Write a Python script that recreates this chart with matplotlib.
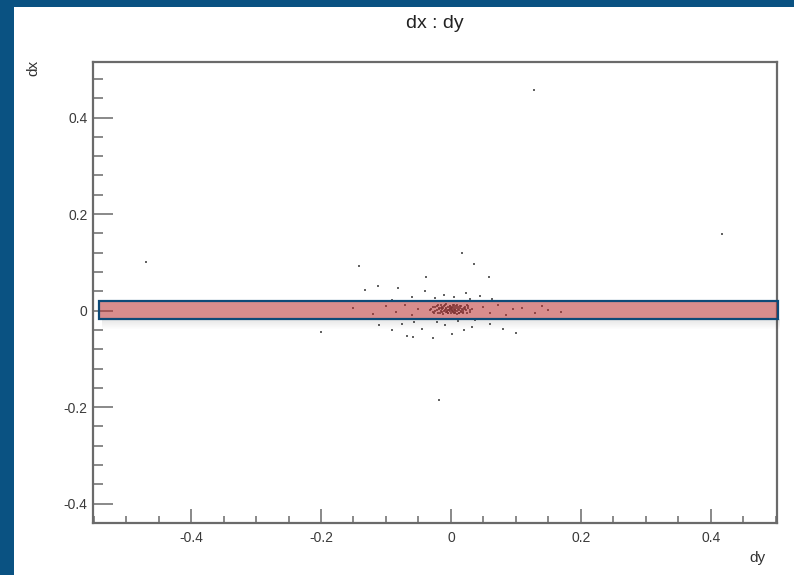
import matplotlib
matplotlib.use("Agg")
import matplotlib.pyplot as plt
from matplotlib.patches import Rectangle
from matplotlib.ticker import MultipleLocator

plt.rcParams["font.family"] = ["Liberation Sans", "DejaVu Sans"]

# Scatter of residuals: dy on the horizontal axis, dx on the vertical axis
dy = [
    # isolated entries
    0.128, 0.418, -0.469, -0.200, -0.018, -0.141,
    # above the core
    0.017, 0.035, -0.038, 0.059, -0.113, -0.082, -0.132, -0.040, -0.011,
    0.023, 0.064, -0.060, 0.005, 0.045, -0.090, 0.030, -0.025,
    # below the core
    -0.057, -0.021, 0.011, 0.037, -0.090, -0.044, -0.009, 0.032, 0.080,
    -0.067, -0.058, -0.028, 0.100, 0.001, -0.110, 0.060, 0.020, -0.075,
    # spread along dx ~ 0
    -0.150, -0.120, -0.100, -0.085, -0.070, -0.060, -0.050, 0.050, 0.060,
    0.072, 0.085, 0.095, 0.110, 0.130, 0.150, 0.170, 0.140,
    # dense core
    -0.030, -0.027, -0.025, -0.022, -0.020, -0.018, -0.016, -0.015, -0.013,
    -0.012, -0.010, -0.009, -0.008, -0.007, -0.006, -0.005, -0.004, -0.003,
    -0.002, -0.001, 0.000, 0.000, 0.001, 0.002, 0.003, 0.004, 0.005,
    0.006, 0.007, 0.008, 0.009, 0.010, 0.011, 0.012, 0.014, 0.015,
    0.017, 0.019, 0.021, 0.023, 0.025, 0.027, 0.030, -0.004, 0.002,
    0.006, -0.008, -0.011, 0.013, -0.002, 0.004, -0.006, 0.008, -0.014,
    0.016, -0.019, 0.020, 0.001, -0.001, 0.003,
    -0.028, -0.024, -0.021, -0.017, -0.012, -0.009, -0.005, -0.001, 0.003,
    0.007, 0.011, 0.015, 0.018, 0.022, 0.026, 0.029, -0.026, -0.020,
    -0.014, -0.007, 0.000, 0.005, 0.012, 0.018, 0.024, -0.032, 0.033,
    -0.016, 0.009, 0.014,
]
dx = [
    0.456, 0.158, 0.100, -0.044, -0.185, 0.092,
    0.119, 0.096, 0.069, 0.069, 0.052, 0.047, 0.042, 0.040, 0.033,
    0.036, 0.025, 0.028, 0.028, 0.030, 0.022, 0.024, 0.026,
    -0.024, -0.023, -0.022, -0.020, -0.040, -0.039, -0.030, -0.034, -0.038,
    -0.052, -0.054, -0.057, -0.046, -0.048, -0.030, -0.028, -0.040, -0.028,
    0.005, -0.008, 0.010, -0.003, 0.012, -0.010, 0.004, 0.008, -0.006,
    0.012, -0.010, 0.003, 0.006, -0.005, 0.002, -0.003, 0.010,
    0.004, -0.002, 0.008, 0.001, -0.005, 0.006, 0.011, -0.001, 0.003,
    -0.007, 0.009, 0.002, -0.003, 0.005, 0.000, 0.007, -0.004, 0.002,
    0.010, -0.001, 0.004, -0.006, 0.001, 0.006, -0.002, 0.003, 0.008,
    -0.004, 0.001, 0.005, -0.001, 0.011, 0.003, -0.006, 0.006, 0.000,
    0.004, -0.003, 0.008, 0.002, -0.005, 0.005, 0.001, 0.001, -0.001,
    0.002, 0.004, 0.000, 0.002, 0.005, -0.005, -0.002, 0.009, 0.008,
    -0.002, 0.003, 0.006, 0.008, 0.003, 0.000,
    0.007, 0.000, 0.010, -0.004, 0.005, 0.012, -0.006, 0.009, 0.011,
    -0.003, 0.007, 0.010, -0.005, 0.004, 0.009, -0.002, -0.004, 0.011,
    -0.002, 0.013, 0.006, 0.012, -0.004, 0.001, 0.011, 0.002, 0.004,
    0.005, -0.007, 0.009,
]

x_range = (-0.551, 0.502)
y_range = (-0.44, 0.515)
x_ticks = [-0.4, -0.2, 0.0, 0.2, 0.4]
y_ticks = [-0.4, -0.2, 0.0, 0.2, 0.4]
tick_text = ["-0.4", "-0.2", "0", "0.2", "0.4"]

# highlighted strip around dx = 0
band_dy = (-0.5415, 0.503)
band_dx = (-0.0172, 0.0195)

W, H = 794, 575
fig = plt.figure(figsize=(W / 100, H / 100), dpi=100)
fig.patch.set_facecolor("white")

# window frame
frame_blue = "#0a5282"
fig.add_artist(Rectangle((0, 1 - 7 / H), 1, 7 / H, transform=fig.transFigure,
                         facecolor=frame_blue, edgecolor="none", zorder=5))
fig.add_artist(Rectangle((0, 0), 14 / W, 1, transform=fig.transFigure,
                         facecolor=frame_blue, edgecolor="none", zorder=5))

ax = fig.add_axes([93 / W, (H - 523) / H, (777 - 93) / W, (523 - 62) / H])
ax.set_xlim(*x_range)
ax.set_ylim(*y_range)

axis_grey = "#6a6a6a"
for sp in ax.spines.values():
    sp.set_color(axis_grey)
    sp.set_linewidth(1.6)

ax.xaxis.set_minor_locator(MultipleLocator(0.05))
ax.yaxis.set_minor_locator(MultipleLocator(0.04))
ax.set_xticks(x_ticks)
ax.set_yticks(y_ticks)
ax.set_xticklabels(tick_text)
ax.set_yticklabels(tick_text)

ax.tick_params(axis="x", which="major", direction="in", length=10, width=1.1,
               color=axis_grey, labelsize=10, labelcolor="#3a3a3a", pad=6,
               top=False)
ax.tick_params(axis="x", which="minor", direction="in", length=5, width=1.1,
               color=axis_grey, top=False)
ax.tick_params(axis="y", which="major", direction="in", length=14.5, width=1.1,
               color=axis_grey, labelsize=10, labelcolor="#3a3a3a", pad=4,
               right=False)
ax.tick_params(axis="y", which="minor", direction="in", length=7.5, width=1.1,
               color=axis_grey, right=False)

ax.scatter(dy, dx, s=4, marker="s", linewidths=0, color="#3c3c3c",
           alpha=0.8, zorder=3)

# soft shadow under the strip
px_y = (y_range[1] - y_range[0]) / (523 - 62)
for k in range(10):
    ax.add_patch(Rectangle((band_dy[0] + 0.004, band_dx[0] - (k + 1) * px_y),
                           band_dy[1] - band_dy[0], px_y,
                           facecolor="black", edgecolor="none",
                           alpha=0.10 * (1 - k / 10), zorder=4, clip_on=False))

ax.add_patch(Rectangle((band_dy[0], band_dx[0]), band_dy[1] - band_dy[0],
                       band_dx[1] - band_dx[0], facecolor=(0.73, 0.19, 0.19, 0.55),
                       edgecolor="#0d4a78", linewidth=1.6, zorder=6,
                       clip_on=False))

fig.text(435 / W, 1 - 28 / H, "dx : dy", ha="center", va="baseline",
         fontsize=14, color="#222222")
fig.text(765 / W, 1 - 562 / H, "dy", ha="right", va="baseline",
         fontsize=11, color="#333333")
fig.text(33 / W, 1 - 60 / H, "dx", ha="center", va="top", rotation=90,
         fontsize=11, color="#333333")

fig.savefig("out.png", dpi=100, facecolor="white")
